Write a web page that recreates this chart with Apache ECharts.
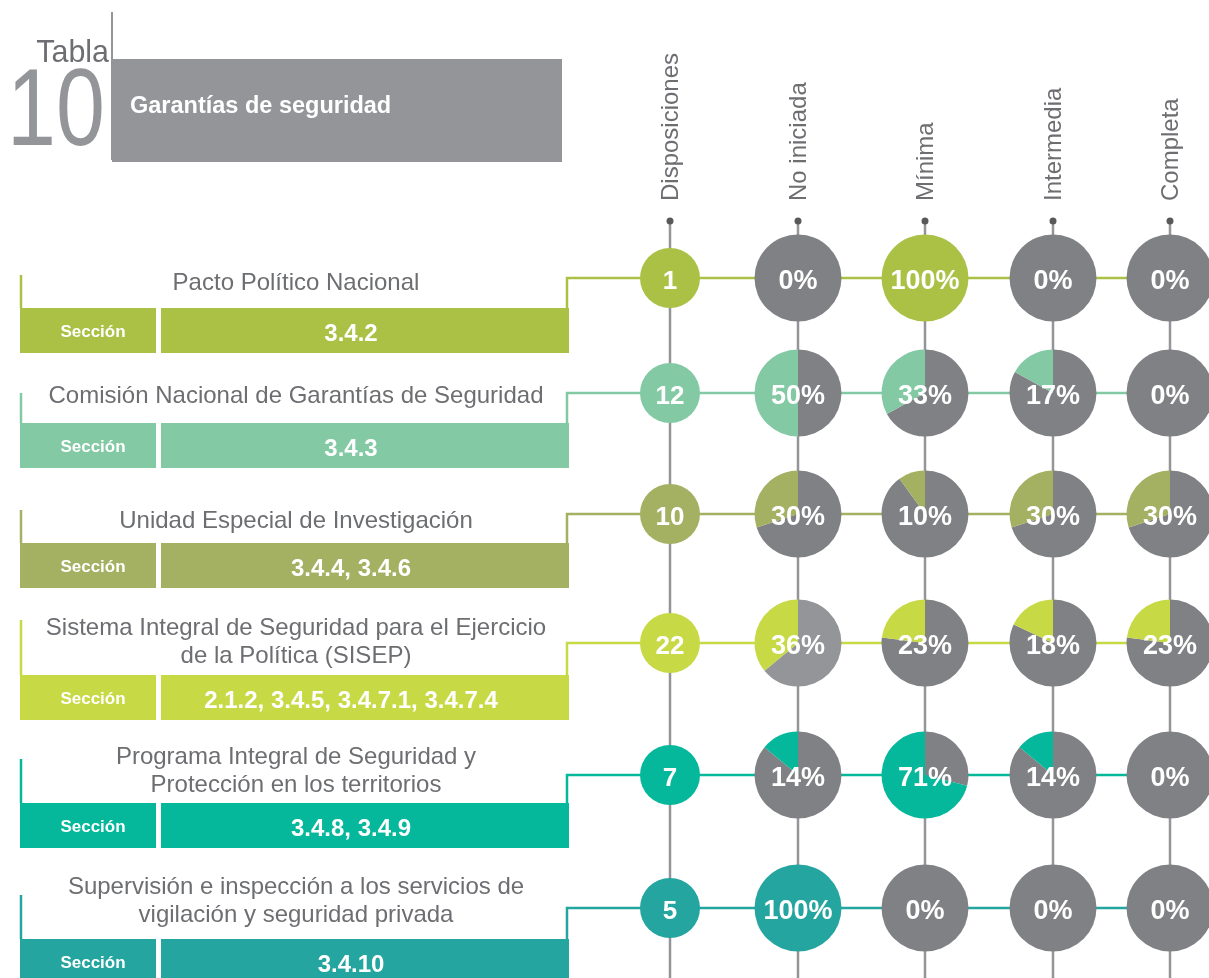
<!DOCTYPE html>
<html>
<head>
<meta charset="utf-8">
<script src="https://cdn.jsdelivr.net/npm/echarts@6/dist/echarts.min.js"></script>
<style>
html,body{margin:0;padding:0;background:#fff;}
#chart{width:1209px;height:978px;}
</style>
</head>
<body>
<div id="chart"></div>
<script>
// ---------- DATA ----------
const tableNumber = '10';
const tableTitle = 'Garantías de seguridad';
const columnHeaders = ['Disposiciones', 'No iniciada', 'Mínima', 'Intermedia', 'Completa'];
const rowTitles = [
  'Pacto Político Nacional',
  'Comisión Nacional de Garantías de Seguridad',
  'Unidad Especial de Investigación',
  'Sistema Integral de Seguridad para el Ejercicio\nde la Política (SISEP)',
  'Programa Integral de Seguridad y\nProtección en los territorios',
  'Supervisión e inspección a los servicios de\nvigilación y seguridad privada'
];
const sectionLabel = 'Sección';
const sections = ['3.4.2', '3.4.3', '3.4.4, 3.4.6', '2.1.2, 3.4.5, 3.4.7.1, 3.4.7.4', '3.4.8, 3.4.9', '3.4.10'];
const disposiciones = [1, 12, 10, 22, 7, 5];
const noIniciada = [0, 50, 30, 36, 14, 100];
const minima     = [100, 33, 10, 23, 71, 0];
const intermedia = [0, 17, 30, 18, 14, 0];
const completa   = [0, 0, 30, 23, 0, 0];

// ---------- LAYOUT / STYLE ----------
const rowColors = ['#aac146', '#82c9a4', '#a4b062', '#c7da46', '#06b89b', '#25a59f'];
const pieGrey = '#808184';
const lightGrey = '#939598';
const textGrey = '#6d6e71';
const FONT = '"Liberation Sans", Arial, Helvetica, sans-serif';
const colX = [670, 798, 925, 1053, 1170];
const rowY = [278, 393, 514, 643, 775, 908];
const barTop = [308, 423, 543, 675, 803, 939];
const titleCenterY = [283, 396, 521, 642, 771, 901];
const leftLineTop = [275, 393, 510, 620, 759, 895];
const barH = 45;
const pieR = 43.5;
const dispR = 30;
// special styling quirk: lighter grey in one cell
const greyOverride = {'3-0': '#939598'};

const statusSeries = [noIniciada, minima, intermedia, completa];

const chart = echarts.init(document.getElementById('chart'), null, {renderer: 'canvas'});

const graphics = [];
// Header
graphics.push({type: 'line', shape: {x1: 112, y1: 12, x2: 112, y2: 160}, style: {stroke: lightGrey, lineWidth: 2}});
graphics.push({type: 'rect', shape: {x: 112, y: 59, width: 450, height: 103}, style: {fill: lightGrey}});
graphics.push({type: 'text', x: 130, y: 107, style: {text: tableTitle, fill: '#fff', font: 'bold 23.5px ' + FONT, textAlign: 'left', textVerticalAlign: 'middle'}});
graphics.push({type: 'text', x: 109, y: 53, scaleX: 0.95, originX: 0, originY: 0, style: {text: 'Tabla', fill: textGrey, font: '32px ' + FONT, textAlign: 'right', textVerticalAlign: 'middle'}});
graphics.push({type: 'text', x: 7, y: 115, scaleX: 0.8, originX: 0, originY: 0, style: {text: tableNumber, fill: lightGrey, font: '110px ' + FONT, textAlign: 'left', textVerticalAlign: 'middle'}});

// Column headers, dots and vertical lines
columnHeaders.forEach((h, i) => {
  graphics.push({type: 'text', x: colX[i] + 1, y: 201, rotation: Math.PI / 2,
    style: {text: h, fill: textGrey, font: '24px ' + FONT, textAlign: 'left', textVerticalAlign: 'middle'}});
  graphics.push({type: 'line', shape: {x1: colX[i], y1: 221, x2: colX[i], y2: 978}, style: {stroke: lightGrey, lineWidth: 2.5}});
  graphics.push({type: 'circle', shape: {cx: colX[i], cy: 221, r: 3.5}, style: {fill: '#58595b'}});
});

// Rows
rowTitles.forEach((t, r) => {
  const c = rowColors[r];
  graphics.push({type: 'polyline', shape: {points: [[567, barTop[r]], [567, rowY[r]], [1209, rowY[r]]]}, style: {stroke: c, lineWidth: 2.5, fill: null}});
  graphics.push({type: 'line', shape: {x1: 21, y1: leftLineTop[r], x2: 21, y2: barTop[r]}, style: {stroke: c, lineWidth: 2.5}});
  graphics.push({type: 'text', x: 296, y: titleCenterY[r], style: {text: t, fill: textGrey, font: '24px ' + FONT, textAlign: 'center', textVerticalAlign: 'middle', lineHeight: 28}});
  graphics.push({type: 'rect', shape: {x: 20, y: barTop[r], width: 136, height: barH}, style: {fill: c}});
  graphics.push({type: 'rect', shape: {x: 161, y: barTop[r], width: 408, height: barH}, style: {fill: c}});
  graphics.push({type: 'text', x: 93, y: barTop[r] + barH / 2 + 2, style: {text: sectionLabel, fill: '#fff', font: 'bold 17px ' + FONT, textAlign: 'center', textVerticalAlign: 'middle'}});
  graphics.push({type: 'text', x: 351, y: barTop[r] + barH / 2 + 4, style: {text: sections[r], fill: '#fff', font: 'bold 24px ' + FONT, textAlign: 'center', textVerticalAlign: 'middle'}});
});

const series = [];
disposiciones.forEach((v, r) => {
  series.push({
    type: 'pie', silent: true, center: [colX[0], rowY[r]], radius: dispR,
    label: {show: true, position: 'center', formatter: '{c}', color: '#fff', fontFamily: FONT, fontWeight: 'bold', fontSize: 26, offset: [0, 4]},
    labelLine: {show: false},
    data: [{value: v, name: 'd', itemStyle: {color: rowColors[r]}}]
  });
});
statusSeries.forEach((arr, ci) => {
  arr.forEach((p, r) => {
    const grey = greyOverride[r + '-' + ci] || pieGrey;
    const labelOnColored = p >= 100 - p;
    const lbl = {show: true, position: 'center', formatter: p + '%', color: '#fff', fontFamily: FONT, fontWeight: 'bold', fontSize: 27, offset: [0, 4]};
    series.push({
      type: 'pie', silent: true, center: [colX[ci + 1], rowY[r]], radius: pieR,
      startAngle: 90, clockwise: true, avoidLabelOverlap: false,
      labelLine: {show: false},
      data: [
        {value: 100 - p, name: 'g', itemStyle: {color: grey}, label: labelOnColored ? {show: false} : lbl},
        {value: p, name: 'c', itemStyle: {color: rowColors[r]}, label: labelOnColored ? lbl : {show: false}}
      ]
    });
  });
});

chart.setOption({
  animation: false,
  backgroundColor: '#ffffff',
  graphic: {elements: graphics},
  series: series
});
</script>
</body>
</html>
